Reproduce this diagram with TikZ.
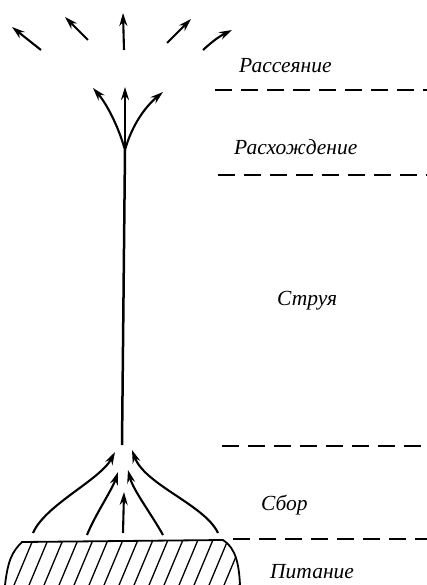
\documentclass[tikz,border=0pt]{standalone}
\usepackage{fontspec}
\setmainfont{Liberation Serif}
\usetikzlibrary{arrows.meta,positioning,calc}

\begin{document}
\begin{tikzpicture}[
    x=1pt, y=-1pt,
    every node/.style={align=center},
    zone/.style={font=\itshape\fontsize{21.5}{24}\selectfont, inner sep=0pt, anchor=base west},
    border/.style={line width=1.3pt, dash pattern=on 17pt off 9pt},
    flow/.style={line width=2.1pt, ->, >={Stealth[length=13pt,width=8pt]}},
    stem/.style={line width=2.5pt}
]
\useasboundingbox (0,0) rectangle (427,585);

% Zone labels
\node[zone] (scatter) at (239,73) {Рассеяние};
\node[zone] (diverge) at (234,155) {Расхождение};
\node[zone] (jet) at (277,305) {Струя};
\node[zone] (collect) at (261,510) {Сбор};
\node[zone] (feed) at (270,578) {Питание};

% Zone borders
\draw[border] (215,90) -- (427,90);
\draw[border] (218,175) -- (427,175);
\draw[border] (222,446) -- (427,446);
\draw[border] (233,539) -- (427,539);

% Feed block
\coordinate (blockL) at (22,542);
\coordinate (blockR) at (223,540);
\begin{scope}
  \clip (5,585) .. controls (8,560) and (12,552) .. (blockL) -- (blockR)
        .. controls (236,548) and (239,565) .. (240,585) -- cycle;
  \foreach \x in {20,35,...,275}
    \draw[line width=1.3pt] (\x,535) -- (\x-23,590);
\end{scope}
\draw[line width=1.8pt] (5,585) .. controls (8,560) and (12,552) .. (blockL) -- (blockR)
      .. controls (236,548) and (239,565) .. (240,585);

% Collection
\coordinate (c1) at (33,533);
\coordinate (c2) at (87,535);
\coordinate (c3) at (123,533);
\coordinate (c4) at (163,535);
\coordinate (c5) at (218,533);
\coordinate (t1) at (115,452);
\coordinate (t2) at (118,472);
\coordinate (t3) at (124,492);
\coordinate (t4) at (128,470);
\coordinate (t5) at (132,450);
\draw[flow] (c1) .. controls (45,505) and (100,480) .. (t1);
\draw[flow] (c2) .. controls (95,515) and (112,490) .. (t2);
\draw[flow] (c3) -- (t3);
\draw[flow] (c4) .. controls (152,515) and (133,490) .. (t4);
\draw[flow] (c5) .. controls (205,505) and (145,485) .. (t5);

% Jet
\coordinate (base) at (122,445);
\coordinate (split) at (125,150);
\draw[stem] (base) -- (split);

% Divergence
\coordinate (d1) at (93,88);
\coordinate (d2) at (125,87);
\coordinate (d3) at (163,92);
\draw[flow] (split) .. controls (118,125) and (106,103) .. (d1);
\draw[flow] (split) -- (d2);
\draw[flow] (split) .. controls (132,125) and (145,107) .. (d3);

% Scattering
\foreach \a/\b/\c/\d [count=\i] in {41/50/12/27, 88/40/65/17, 124/50/123/13, 167/43/191/19} {
  \coordinate (s\i) at (\a,\b);
  \coordinate (e\i) at (\c,\d);
  \draw[flow] (s\i) -- (e\i);
}
\coordinate (s5) at (203,50);
\coordinate (e5) at (232,30);
\draw[flow] (s5) to[bend left=8] (e5);

\end{tikzpicture}
\end{document}
